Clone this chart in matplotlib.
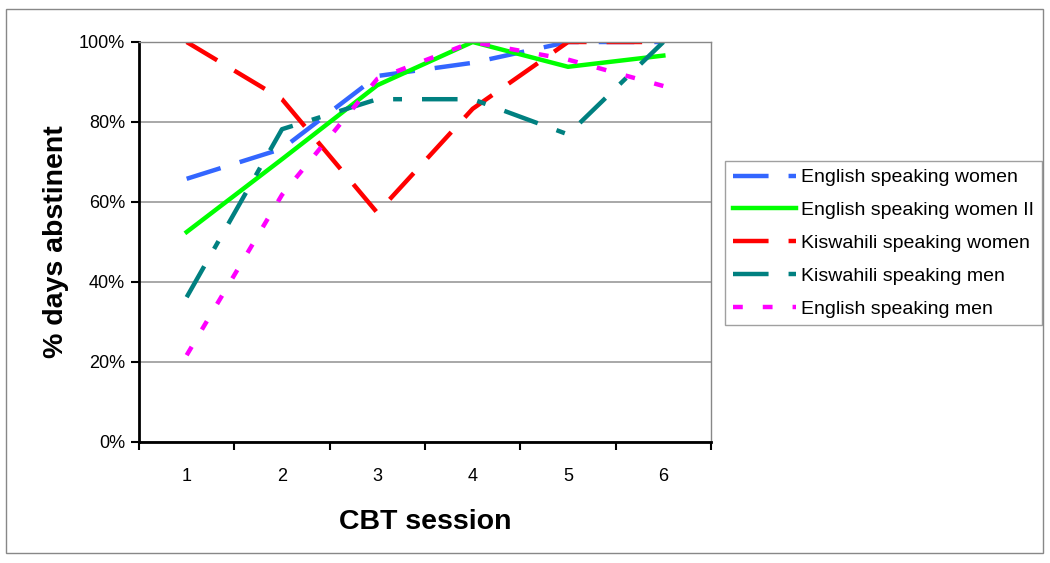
import numpy as np
import matplotlib
matplotlib.use("Agg")
import matplotlib.pyplot as plt
from matplotlib.patches import Rectangle

plt.rcParams['font.family'] = ['Liberation Sans', 'DejaVu Sans']

sessions = ['1', '2', '3', '4', '5', '6']
eng_women = [65.8, 73.3, 91.5, 94.8, 100, 100]
eng_women2 = [52.5, 70.7, 89.2, 100, 93.8, 96.6]
kis_women = [100, 85.7, 57.3, 83.3, 100, 100]
kis_men = [36.2, 78.2, 85.7, 85.7, 76.9, 100]
eng_men = [21.7, 61.8, 90.8, 100, 95.6, 89.0]

labels = ['English speaking women', 'English speaking women II',
          'Kiswahili speaking women', 'Kiswahili speaking men',
          'English speaking men']

fig = plt.figure(figsize=(10.5, 5.63), dpi=100)
ax = fig.add_axes([139/1050, 1-442/563, (711-139)/1050, 400/563])

x = np.arange(len(sessions)) + 0.5
lw = 3.2
ax.plot(x, eng_women, color='#3366FF', lw=lw, dashes=(8, 4.5), label=labels[0])
ax.plot(x, eng_women2, color='#00FF00', lw=lw, label=labels[1])
ax.plot(x, kis_women, color='#FF0000', lw=lw, dashes=(8, 4.5), label=labels[2])
ax.plot(x, kis_men, color='#008080', lw=lw, dashes=(8, 4.5, 2, 4.5), label=labels[3])
ax.plot(x, eng_men, color='#FF00FF', lw=lw, dashes=(2.2, 4.5), label=labels[4])

ax.set_xlim(0, 6)
ax.set_ylim(0, 100)
ax.set_yticks(np.arange(0, 101, 20))
ax.set_yticklabels([f'{v}%' for v in range(0, 101, 20)], fontsize=13)
ax.set_xticks(np.arange(0, 7))
ax.set_xticklabels([])
ax.set_xticks(x, minor=True)
ax.set_xticklabels(sessions, minor=True, fontsize=13)
ax.tick_params(axis='x', which='minor', length=0, pad=19)
ax.tick_params(axis='x', which='major', length=6, width=1.5, direction='out')
ax.tick_params(axis='y', length=6, width=1.5, direction='out', pad=4)

ax.grid(axis='y', color='#999999', lw=1.2)
ax.set_axisbelow(True)
for s in ['left', 'bottom']:
    ax.spines[s].set_linewidth(2)
    ax.spines[s].set_color('black')
for s in ['top', 'right']:
    ax.spines[s].set_linewidth(1)
    ax.spines[s].set_color('#888888')

ax.set_xlabel('CBT session', fontsize=20.5, fontweight='bold', labelpad=17)
ax.set_ylabel('% days abstinent', fontsize=20.5, fontweight='bold', labelpad=7)

leg = ax.legend(loc='upper left', bbox_to_anchor=(725/1050, 1-161/563),
                bbox_transform=fig.transFigure, fontsize=14, frameon=True,
                fancybox=False, edgecolor='#888888', handlelength=3.25,
                handletextpad=0.25, labelspacing=0.78, borderpad=0.4,
                borderaxespad=0)
leg.get_frame().set_linewidth(1)

fig.patches.append(Rectangle((6/1050, 1-553/563), 1037/1050, 544/563,
                             transform=fig.transFigure, fill=False,
                             edgecolor='#888888', lw=1))

fig.savefig('out.png', dpi=100)
